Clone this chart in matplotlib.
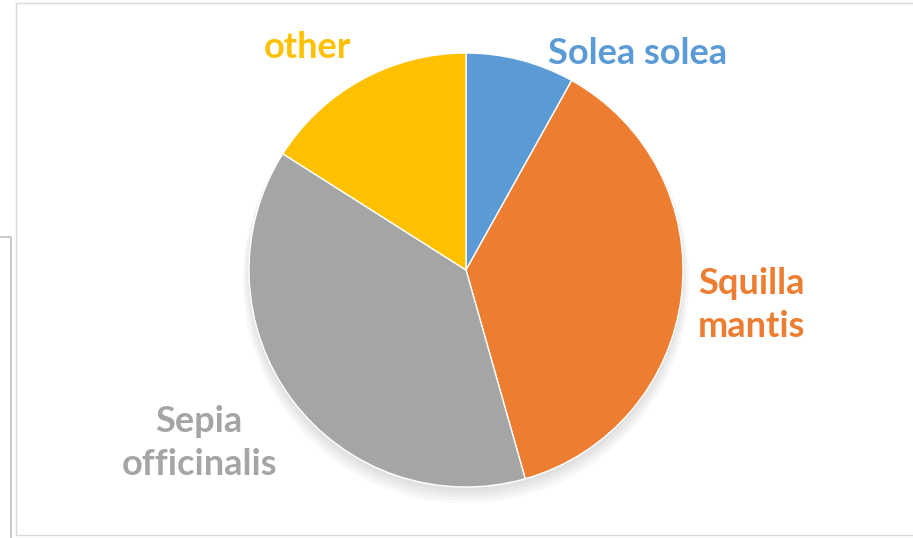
import matplotlib
matplotlib.use("Agg")
import matplotlib.pyplot as plt
from matplotlib.patches import Rectangle, Circle
from matplotlib.lines import Line2D

# Данные диаграммы
labels = ["Solea solea", "Squilla\nmantis", "Sepia\nofficinalis", "other"]
values = [8.1, 37.5, 38.4, 16.0]
colors = ["#5B9BD5", "#ED7D31", "#A5A5A5", "#FFC000"]

# Позиции подписей (в пикселях картинки)
label_pos = [(638, 53), (751, 305), (199, 443), (307, 48)]

W, H = 913, 538
fig = plt.figure(figsize=(W / 100, H / 100), dpi=100)
fig.patch.set_facecolor("white")

# Рамка области диаграммы
fig.add_artist(Rectangle((16 / W, 3 / H), (W - 10) / W, (H - 6) / H,
                         transform=fig.transFigure, fill=False,
                         edgecolor="#D9D9D9", linewidth=1.0))
fig.add_artist(Line2D([0, 11 / W, 11 / W], [1 - 237 / H, 1 - 237 / H, 0],
                      transform=fig.transFigure, color="#BFBFBF", linewidth=1.2))

cx, cy, r = 466, 270, 217
ax = fig.add_axes([(cx - r) / W, (H - cy - r) / H, 2 * r / W, 2 * r / H])
ax.set_aspect("equal")
ax.axis("off")

# Мягкая тень под кругом
for i in range(5):
    ax.add_patch(Circle((0.0, -0.02 - 0.007 * i), 1.0 + 0.007 * i,
                        color="black", alpha=0.025, zorder=0, linewidth=0,
                        clip_on=False))

ax.pie(values, colors=colors, startangle=90, counterclock=False,
       radius=1.0, wedgeprops=dict(edgecolor="white", linewidth=1.0))
ax.set_xlim(-1, 1)
ax.set_ylim(-1, 1)

# Подписи
for text, (px, py), c in zip(labels, label_pos, colors):
    fig.text(px / W, 1 - py / H, text, color=c, fontsize=26,
             fontweight="bold", family="Lato", ha="center", va="center",
             linespacing=1.4)

fig.savefig("out.png", dpi=100, facecolor="white")
